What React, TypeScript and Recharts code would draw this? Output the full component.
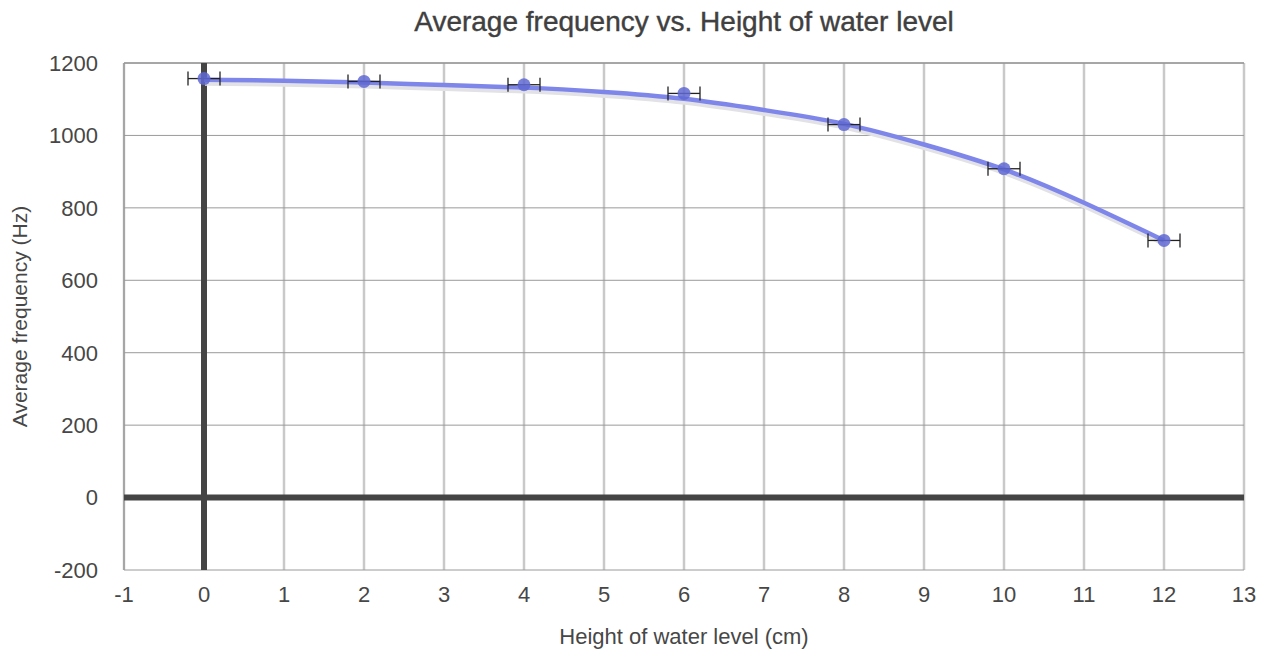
import {
  ComposedChart,
  Line,
  Scatter,
  ErrorBar,
  XAxis,
  YAxis,
  CartesianGrid,
  ReferenceLine,
  Label,
} from 'recharts';

// measured points (water height in cm, average frequency in Hz)
const heights = [0, 2, 4, 6, 8, 10, 12];
const frequencies = [1157, 1149, 1140, 1116, 1030, 908, 710];
const heightErrors = [0.2, 0.2, 0.2, 0.2, 0.2, 0.2, 0.2];

// trend curve
const trendX = [0, 1, 2, 3, 4, 5, 6, 7, 8, 9, 10, 11, 12];
const trendY = [1154, 1151, 1146, 1139, 1132, 1120, 1101, 1070, 1032, 975, 906, 814, 710];

const xTicks = [-1, 0, 1, 2, 3, 4, 5, 6, 7, 8, 9, 10, 11, 12, 13];
const yTicks = [-200, 0, 200, 400, 600, 800, 1000, 1200];

const points = heights.map((h, i) => ({ x: h, y: frequencies[i], err: heightErrors[i] }));
const trend = trendX.map((x, i) => ({ x, y: trendY[i] }));

const font = '"Liberation Sans", Arial, Helvetica, sans-serif';
const textColor = '#474747';

const Dot = (props: any) => (
  <circle cx={props.cx} cy={props.cy} r={6.5} fill="#5f68d2" fillOpacity={0.85} />
);

export default function App() {
  return (
    <div style={{ position: 'absolute', left: 0, top: 0, width: 1268, height: 650, background: '#fff', fontFamily: font }}>
      <div
        style={{
          position: 'absolute',
          left: 124,
          width: 1120,
          top: 6,
          textAlign: 'center',
          fontSize: 28,
          color: '#404040',
          lineHeight: '32px',
          WebkitTextStroke: '0.4px #404040',
        }}
      >
        Average frequency vs. Height of water level
      </div>
      <ComposedChart width={1268} height={650} margin={{ top: 63, right: 24, bottom: 0, left: 0 }}>
        <CartesianGrid horizontal={false} stroke="#c9c9c9" strokeWidth={2.5} verticalValues={xTicks} />
        <CartesianGrid vertical={false} stroke="#9a9a9a" strokeWidth={1} horizontalValues={yTicks} />
        <XAxis
          type="number"
          dataKey="x"
          domain={[-1, 13]}
          ticks={xTicks}
          allowDataOverflow
          height={80}
          axisLine={false}
          tickLine={false}
          tickMargin={10}
          tick={{ fill: textColor, fontSize: 22, fontFamily: font }}
        >
          <Label
            value="Height of water level (cm)"
            position="insideBottom"
            offset={6}
            style={{ fill: textColor, fontSize: 22, fontFamily: font }}
          />
        </XAxis>
        <YAxis
          type="number"
          dataKey="y"
          domain={[-200, 1200]}
          ticks={yTicks}
          allowDataOverflow
          width={124}
          axisLine={false}
          tickLine={false}
          tickMargin={20}
          tick={{ fill: textColor, fontSize: 22, fontFamily: font }}
        >
          <Label
            value="Average frequency (Hz)"
            angle={-90}
            position="insideLeft"
            offset={20}
            style={{ textAnchor: 'middle', fill: textColor, fontSize: 21, fontFamily: font }}
          />
        </YAxis>
        <ReferenceLine x={-1} stroke="#9a9a9a" strokeWidth={1.5} />
        <ReferenceLine y={1200} stroke="#9a9a9a" strokeWidth={1.5} />
        <ReferenceLine x={0} stroke="#444" strokeWidth={6} />
        <ReferenceLine y={0} stroke="#444" strokeWidth={6} />
        <Line
          data={trend}
          dataKey="y"
          type="natural"
          stroke="#e2e2e6"
          strokeWidth={6}
          dot={false}
          activeDot={false}
          isAnimationActive={false}
          transform="translate(1,3)"
        />
        <Line
          data={trend}
          dataKey="y"
          type="natural"
          stroke="#7e86ea"
          strokeWidth={4.5}
          dot={false}
          activeDot={false}
          isAnimationActive={false}
        />
        <Scatter data={points} dataKey="y" shape={Dot} isAnimationActive={false}>
          <ErrorBar dataKey="err" direction="x" width={7} stroke="#222" strokeWidth={1.3} />
        </Scatter>
      </ComposedChart>
    </div>
  );
}
